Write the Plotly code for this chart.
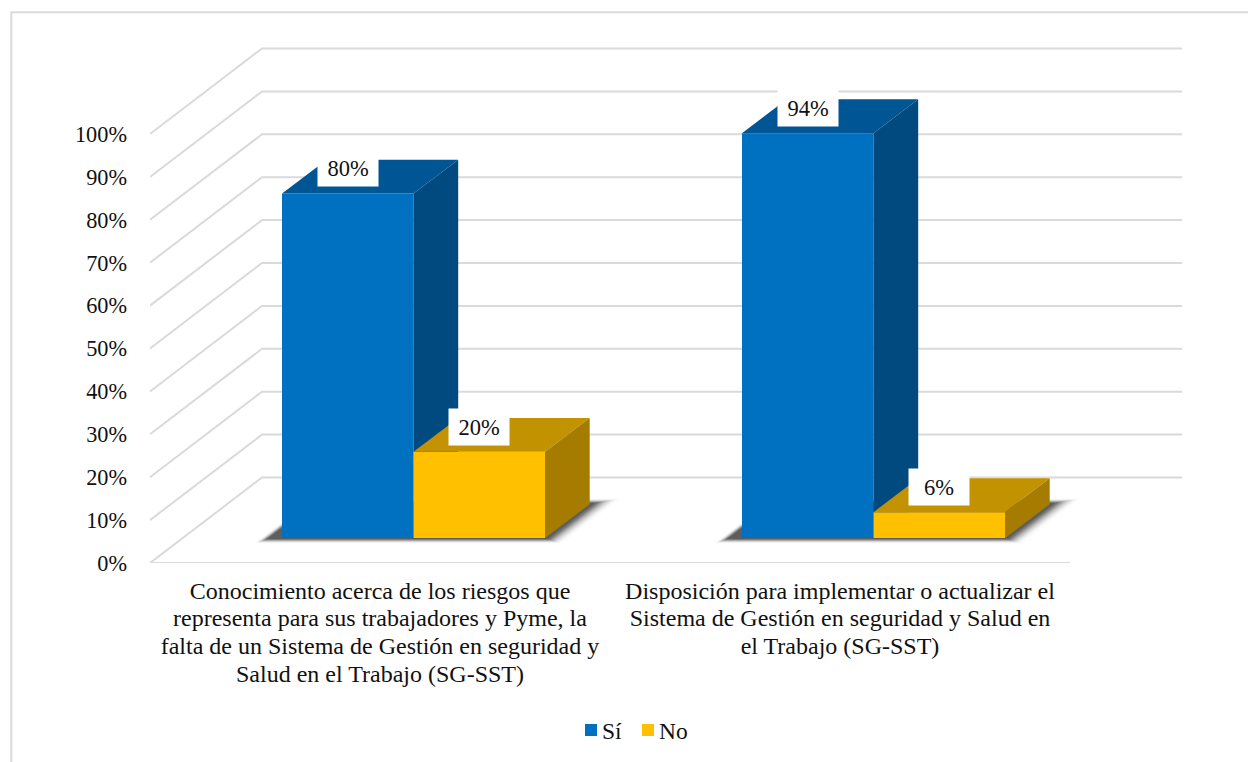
import plotly.graph_objects as go

# ---- data ----
category_lines = [
    ["Conocimiento acerca de los riesgos que",
     "representa para sus trabajadores y Pyme, la",
     "falta de un Sistema de Gestión en seguridad y",
     "Salud en el Trabajo (SG-SST)"],
    ["Disposición para implementar o actualizar el",
     "Sistema de Gestión en seguridad y Salud en",
     "el Trabajo (SG-SST)"],
]
series_names = ["Sí", "No"]
si_values = [80, 94]
no_values = [20, 6]
y_ticks = [0, 10, 20, 30, 40, 50, 60, 70, 80, 90, 100]
y_labels = [f"{v}%" for v in y_ticks]

# ---- styles ----
FONT = "Liberation Serif, Times New Roman, serif"
FS_LINE = 21.5   # sets the line pitch of the category labels
FS_CAT = 24
FS_TICK = 22.3
FS_LABEL = 22.5
FS_LEG = 23.5
TXT = "#111111"
GRID = "#DADADA"
SI = dict(front="#0070C0", top="#005694", side="#004A80")
NO = dict(front="#FFC000", top="#C29200", side="#A67C00")

W, H = 1248, 762
L, R, T, B = 150, 1182, 47, 563
PX_X = 460.0                # pixels per category
PX_Y = 4.29                 # pixels per percent
XMIN = -0.5
XMAX = XMIN + (R - L) / PX_X
YMAX = (B - T) / PX_Y

WALL_DX = 112 / PX_X
WALL_DY = 85.5 / PX_Y
BAR_W = 131.5 / PX_X
BAR_LEFT = (282 - 380) / PX_X
FLOOR = 25 / PX_Y
DEPTH_X = 44.7 / PX_X
DEPTH_Y = 33.8 / PX_Y
BAR_SCALE = 1.004           # bars sit on a plane slightly nearer the viewer than the axis

categories = ["<br>".join(f'<span style="font-size:{FS_CAT}px">{t}</span>' for t in lines)
              for lines in category_lines]

fig = go.Figure()
xs = list(range(len(category_lines)))

def poly(xa, ya, color, xaxis="x", yaxis="y"):
    fig.add_trace(go.Scatter(
        x=xa + xa[:1], y=ya + ya[:1], mode="lines", fill="toself", fillcolor=color,
        line=dict(width=0, color=color), hoverinfo="skip", showlegend=False,
        xaxis=xaxis, yaxis=yaxis))

# walls: grid lines on the back wall and the side wall
gx, gy = [], []
for t in y_ticks:
    gx += [XMIN, XMIN + WALL_DX, XMAX, None]
    gy += [t, t + WALL_DY, t + WALL_DY, None]
gx += [XMIN, XMIN + 2.0, None]
gy += [0, 0, None]
fig.add_trace(go.Scatter(x=gx, y=gy, mode="lines", line=dict(color=GRID, width=2),
                         hoverinfo="skip", showlegend=False))

# soft floor shadow behind each group of bars
for x in xs:
    x0 = x + BAR_LEFT
    x1 = x0 + 2 * BAR_W
    for e, a in [(10, .02), (8, .04), (6.5, .06), (5, .08), (3.5, .11), (2, .15), (.5, .2), (-1, .25), (-3, .3)]:
        ex = e / PX_X
        ey = e / PX_Y
        low = FLOOR - 2 / PX_Y - ey * .35
        high = FLOOR + 36 / PX_Y + ey * .35
        slope = 54 / PX_X / (41 / PX_Y)
        bl = x0 - 18 / PX_X - ex
        br = x1 + 6 / PX_X + ex
        poly([bl, br, br + (high - low) * slope, bl + (high - low) * slope],
             [low, low, high, high], f"rgba(40,40,40,{a})")

def bars(name, values, offset, col, xaxis, yaxis):
    lefts = [x + BAR_LEFT + offset for x in xs]
    fig.add_trace(go.Bar(
        x=[l + BAR_W / 2 for l in lefts], y=[v * BAR_SCALE for v in values],
        base=[FLOOR] * len(values), width=BAR_W,
        name=name, marker=dict(color=col["front"], line=dict(width=0)), hoverinfo="skip",
        showlegend=False, xaxis=xaxis, yaxis=yaxis))
    for l, v in zip(lefts, values):
        r = l + BAR_W
        tp = FLOOR + v * BAR_SCALE
        poly([l, r, r + DEPTH_X, l + DEPTH_X], [tp, tp, tp + DEPTH_Y, tp + DEPTH_Y],
             col["top"], xaxis, yaxis)
        poly([r, r + DEPTH_X, r + DEPTH_X, r],
             [FLOOR, FLOOR + DEPTH_Y, tp + DEPTH_Y, tp], col["side"], xaxis, yaxis)
        fig.add_annotation(
            x=l + BAR_W / 2, y=tp + 25 / PX_Y, xref=xaxis, yref=yaxis, text=f"{v}%",
            showarrow=False, bgcolor="white", width=60, height=36, borderpad=0,
            font=dict(family=FONT, size=FS_LABEL, color=TXT), xanchor="center", yanchor="middle")

bars(series_names[0], si_values, 0, SI, "x2", "y2")
bars(series_names[1], no_values, BAR_W, NO, "x3", "y3")

hidden = dict(range=[XMIN, XMAX], visible=False, overlaying="x", fixedrange=True)
hiddeny = dict(range=[0, YMAX], visible=False, overlaying="y", fixedrange=True)

fx = lambda p: (p - L) / (R - L)
fy = lambda p: (B - p) / (B - T)

# outer frame
fig.add_shape(type="path", xref="paper", yref="paper", layer="below",
              path=f"M {fx(W + 5)} {fy(12.3)} L {fx(11.3)} {fy(12.3)} L {fx(11.3)} {fy(H + 5)}",
              line=dict(color=GRID, width=2))

# legend row
for name, col, sw, tx in [(series_names[0], SI, 585, 602), (series_names[1], NO, 642, 659)]:
    fig.add_shape(type="rect", xref="paper", yref="paper",
                  x0=fx(sw), x1=fx(sw + 12), y0=fy(736), y1=fy(724),
                  fillcolor=col["front"], line=dict(width=0))
    fig.add_annotation(xref="paper", yref="paper", x=fx(tx), y=fy(730.5), text=name, showarrow=False,
                       xanchor="left", yanchor="middle", borderpad=0, borderwidth=0,
                       font=dict(family=FONT, size=FS_LEG, color=TXT))

fig.update_layout(
    width=W, height=H, autosize=False,
    margin=dict(l=L, r=W - R, t=T, b=H - B, pad=0),
    paper_bgcolor="white", plot_bgcolor="rgba(0,0,0,0)",
    barmode="overlay", showlegend=False,
    font=dict(family=FONT, size=FS_TICK, color=TXT),
    xaxis=dict(range=[XMIN, XMAX], tickmode="array", tickvals=xs, ticktext=categories,
               tickangle=0, showgrid=False, zeroline=False, showline=False, ticks="",
               ticklabelstandoff=13, fixedrange=True,
               tickfont=dict(family=FONT, size=FS_LINE, color=TXT)),
    yaxis=dict(range=[0, YMAX], tickmode="array", tickvals=y_ticks, ticktext=y_labels,
               showgrid=False, zeroline=False, showline=False, ticks="",
               ticklabelstandoff=22, fixedrange=True,
               tickfont=dict(family=FONT, size=FS_TICK, color=TXT)),
    xaxis2=hidden, xaxis3=hidden, yaxis2=hiddeny, yaxis3=hiddeny,
)

fig.write_html("out.html", config=dict(displayModeBar=False),
               post_script="document.body.style.margin='0';document.body.style.overflow='hidden';")
